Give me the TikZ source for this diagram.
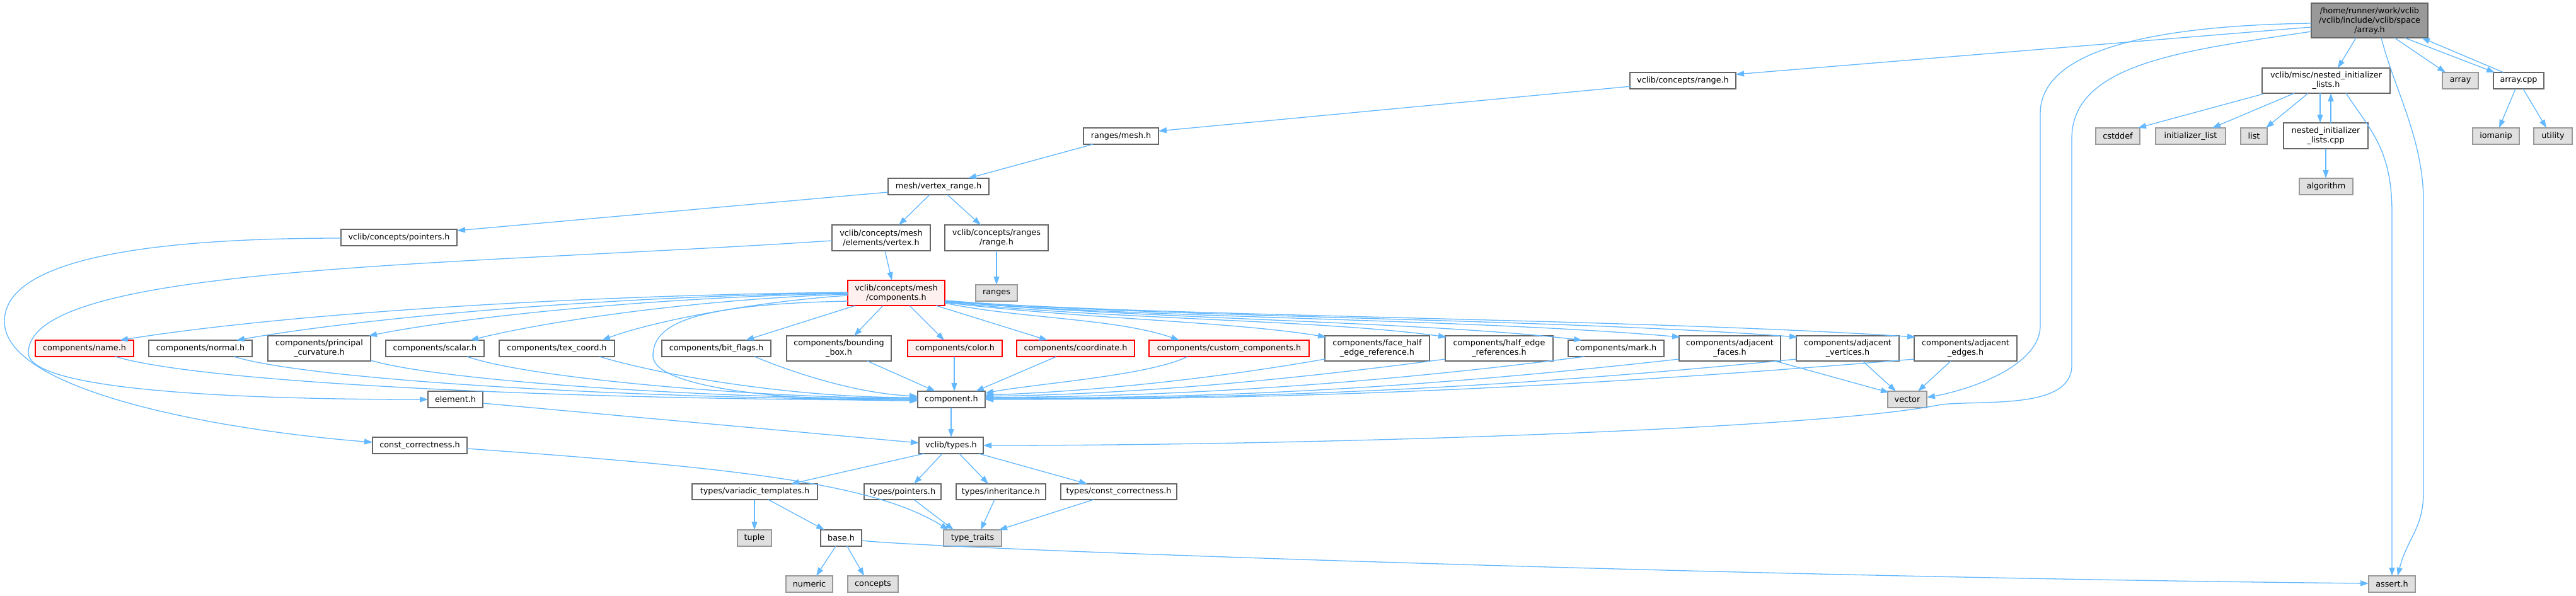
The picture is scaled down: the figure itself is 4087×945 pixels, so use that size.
\documentclass[tikz,border=0pt]{standalone}
\usepackage{fontspec}
\setmainfont{DejaVu Sans}
\usetikzlibrary{arrows.meta}
\definecolor{edgec}{HTML}{63B8FF}
\definecolor{bordc}{HTML}{666666}
\definecolor{grayb}{HTML}{999999}
\definecolor{grayf}{HTML}{E0E0E0}
\definecolor{redb}{HTML}{FF0000}
\definecolor{redf}{HTML}{FFF0F0}
\definecolor{mainf}{HTML}{999999}
\newcommand\bx[7]{\node[#2, minimum width={(#5-#3)*1pt}, minimum height={(#6-#4)*1pt}] (#1) at ({(#3+#5)/2},{(#4+#6)/2}) {#7};}
\newcommand\rp[3]{([shift={(#2,#3)}]#1.north west)}
\begin{document}
\begin{tikzpicture}[x=1pt,y=-1pt,
  box/.style={draw=bordc, fill=white, line width=1.3pt, inner sep=0pt, outer sep=0pt, align=center, font=\fontsize{12.8}{15}\selectfont},
  wbox/.style={box},
  gbox/.style={box, draw=grayb, fill=grayf},
  rbox/.style={box, draw=redb, fill=redf},
  mbox/.style={box, fill=mainf},
  dep/.style={draw=edgec, line width=1.3pt, -{Triangle[length=13pt,width=9pt]}}]
\fill[white] (0,0) rectangle (4087,945);
\useasboundingbox (0,0) rectangle (4087,945);
% nodes
\bx{main}{mbox}{3667}{5}{3852}{60}{/home/runner/work/vclib\\/vclib/include/vclib/space\\/array.h}
\bx{crange}{wbox}{2586}{115}{2754}{141}{vclib/concepts/range.h}
\bx{nil}{wbox}{3589}{108}{3792}{148}{vclib/misc/nested\_initializer\\\_lists.h}
\bx{arr}{gbox}{3875}{115}{3932}{141}{array}
\bx{acpp}{wbox}{3956}{115}{4036}{141}{array.cpp}
\bx{rmesh}{wbox}{1719}{203}{1838}{229}{ranges/mesh.h}
\bx{cstddef}{gbox}{3325}{203}{3395}{229}{cstddef}
\bx{initl}{gbox}{3420}{203}{3531}{229}{initializer\_list}
\bx{list}{gbox}{3555}{203}{3597}{229}{list}
\bx{nilcpp}{wbox}{3623}{195}{3757}{236}{nested\_initializer\\\_lists.cpp}
\bx{iomanip}{gbox}{3923}{203}{3997}{229}{iomanip}
\bx{utility}{gbox}{4020}{203}{4081}{229}{utility}
\bx{algorithm}{gbox}{3648}{283}{3733}{309}{algorithm}
\bx{vrange}{wbox}{1409}{283}{1569}{309}{mesh/vertex\_range.h}
\bx{ptrs}{wbox}{541}{364}{725}{390}{vclib/concepts/pointers.h}
\bx{vertex}{wbox}{1320}{357}{1476}{398}{vclib/concepts/mesh\\/elements/vertex.h}
\bx{rrange}{wbox}{1499}{357}{1663}{398}{vclib/concepts/ranges\\/range.h}
\bx{comps}{rbox}{1345}{445}{1499}{485}{vclib/concepts/mesh\\/components.h}
\bx{ranges}{gbox}{1548}{452}{1614}{478}{ranges}
\bx{cname}{rbox}{56}{540}{212}{566}{components/name.h}
\bx{cnormal}{wbox}{236}{540}{400}{566}{components/normal.h}
\bx{cprinc}{wbox}{425}{533}{588}{573}{components/principal\\\_curvature.h}
\bx{cscalar}{wbox}{612}{540}{768}{566}{components/scalar.h}
\bx{ctex}{wbox}{792}{540}{975}{566}{components/tex\_coord.h}
\bx{cbit}{wbox}{1050}{540}{1223}{566}{components/bit\_flags.h}
\bx{cbbox}{wbox}{1248}{533}{1414}{573}{components/bounding\\\_box.h}
\bx{ccolor}{rbox}{1440}{540}{1590}{566}{components/color.h}
\bx{ccoord}{rbox}{1613}{540}{1800}{566}{components/coordinate.h}
\bx{ccustom}{rbox}{1823}{540}{2077}{566}{components/custom\_components.h}
\bx{cfhe}{wbox}{2102}{533}{2268}{573}{components/face\_half\\\_edge\_reference.h}
\bx{chalf}{wbox}{2293}{533}{2464}{573}{components/half\_edge\\\_references.h}
\bx{cmark}{wbox}{2488}{540}{2640}{566}{components/mark.h}
\bx{cadjf}{wbox}{2664}{533}{2825}{573}{components/adjacent\\\_faces.h}
\bx{cadjv}{wbox}{2850}{533}{3013}{573}{components/adjacent\\\_vertices.h}
\bx{cadje}{wbox}{3037}{533}{3200}{573}{components/adjacent\\\_edges.h}
\bx{element}{wbox}{679}{621}{766}{647}{element.h}
\bx{component}{wbox}{1456}{621}{1563}{647}{component.h}
\bx{vector}{gbox}{2995}{621}{3057}{647}{vector}
\bx{constc}{wbox}{591}{694}{741}{720}{const\_correctness.h}
\bx{types}{wbox}{1458}{694}{1560}{720}{vclib/types.h}
\bx{tvar}{wbox}{1098}{768}{1297}{793}{types/variadic\_templates.h}
\bx{tptr}{wbox}{1371}{768}{1493}{793}{types/pointers.h}
\bx{tinh}{wbox}{1517}{768}{1659}{793}{types/inheritance.h}
\bx{tcc}{wbox}{1683}{768}{1867}{793}{types/const\_correctness.h}
\bx{tuple}{gbox}{1170}{841}{1224}{867}{tuple}
\bx{base}{wbox}{1302}{841}{1367}{867}{base.h}
\bx{ttraits}{gbox}{1497}{841}{1589}{867}{type\_traits}
\bx{numeric}{gbox}{1247}{914}{1321}{940}{numeric}
\bx{concepts}{gbox}{1345}{914}{1425}{940}{concepts}
\bx{assert}{gbox}{3758}{914}{3832}{940}{assert.h}
% edges from main
\draw[dep] \rp{main}{0}{38} -- \rp{crange}{168}{3};
\draw[dep] \rp{main}{71}{55} -- \rp{nil}{120}{0};
\draw[dep] \rp{main}{132}{55} -- \rp{arr}{5}{0};
\draw[dep] \rp{main}{148}{55} -- \rp{acpp}{2}{0};
\draw[dep] \rp{acpp}{16}{0} -- \rp{main}{175}{55};
\draw[dep] \rp{main}{0}{32} .. controls +(-217,3) and +(0,-110) .. ++(-430,143) -- ++(0,337) .. controls +(0,60) and +(80,-15) .. \rp{vector}{62}{10};
\draw[dep] \rp{main}{0}{45} .. controls +(-200,30) and +(0,-120) .. ++(-380,170) -- ++(0,360) .. controls +(0,70) and +(70,-7) .. ++(-207,62) .. controls +(-180,38) and +(550,0) .. \rp{types}{102}{13};
\draw[dep] \rp{main}{111}{55} .. controls +(20,80) and +(0,-100) .. ++(67,260) -- ++(0,460) .. controls +(0,60) and +(15,-60) .. \rp{assert}{46}{0};
% nested initializer lists
\draw[dep] \rp{nil}{2}{41} -- \rp{cstddef}{67}{0};
\draw[dep] \rp{nil}{51}{40} -- \rp{initl}{90}{0};
\draw[dep] \rp{nil}{73}{40} -- \rp{list}{40}{0};
\draw[dep] \rp{nil}{92}{40} -- \rp{nilcpp}{58}{0};
\draw[dep] \rp{nilcpp}{75}{0} -- \rp{nil}{109}{40};
\draw[dep] \rp{nil}{133}{40} .. controls +(40,60) and +(0,-100) .. ++(73,190) -- \rp{assert}{37}{0};
\draw[dep] \rp{nilcpp}{67}{41} -- \rp{algorithm}{42}{0};
\draw[dep] \rp{acpp}{35}{26} -- \rp{iomanip}{42}{0};
\draw[dep] \rp{acpp}{47}{26} -- \rp{utility}{20}{0};
% ranges chain
\draw[dep] \rp{crange}{2}{22} -- \rp{rmesh}{119}{5};
\draw[dep] \rp{rmesh}{15}{26} -- \rp{vrange}{127}{0};
\draw[dep] \rp{vrange}{0}{22} -- \rp{ptrs}{184}{2};
\draw[dep] \rp{vrange}{66}{26} -- \rp{vertex}{106}{0};
\draw[dep] \rp{vrange}{94}{26} -- \rp{rrange}{57}{0};
\draw[dep] \rp{rrange}{82}{41} -- \rp{ranges}{33}{0};
\draw[dep] \rp{vertex}{84}{41} -- \rp{comps}{70}{0};
\draw[dep] \rp{vertex}{0}{25} .. controls +(-600,40) and +(0,-140) .. ++(-1275,178) .. controls +(0,60) and +(-300,0) .. \rp{element}{0}{13};
\draw[dep] \rp{ptrs}{0}{14} .. controls +(-250,0) and +(0,-110) .. ++(-534,132) .. controls +(0,110) and +(-250,-20) .. \rp{constc}{0}{8};
% components.h fan
\draw[dep] \rp{comps}{0}{19} .. controls +(-460,5) and +(250,-40) .. \rp{cname}{134}{0};
\draw[dep] \rp{comps}{0}{20} .. controls +(-390,5) and +(200,-35) .. \rp{cnormal}{139}{0};
\draw[dep] \rp{comps}{0}{21} .. controls +(-300,5) and +(150,-30) .. \rp{cprinc}{160}{0};
\draw[dep] \rp{comps}{0}{22} .. controls +(-240,8) and +(120,-30) .. \rp{cscalar}{134}{0};
\draw[dep] \rp{comps}{0}{24} .. controls +(-150,10) and +(80,-30) .. \rp{ctex}{163}{0};
\draw[dep] \rp{comps}{12}{40} -- \rp{cbit}{133}{0};
\draw[dep] \rp{comps}{56}{40} -- \rp{cbbox}{107}{0};
\draw[dep] \rp{comps}{98}{40} -- \rp{ccolor}{58}{0};
\draw[dep] \rp{comps}{140}{40} -- \rp{ccoord}{49}{0};
\draw[dep] \rp{comps}{154}{36} .. controls +(120,25) and +(-100,-35) .. \rp{ccustom}{48}{0};
\draw[dep] \rp{comps}{154}{35} .. controls +(200,25) and +(-150,-25) .. \rp{cfhe}{2}{2};
\draw[dep] \rp{comps}{154}{34} .. controls +(250,28) and +(-200,-28) .. \rp{chalf}{2}{2};
\draw[dep] \rp{comps}{154}{33} .. controls +(300,28) and +(-250,-30) .. \rp{cmark}{22}{0};
\draw[dep] \rp{comps}{154}{33} .. controls +(300,27) and +(-350,-30) .. \rp{cadjf}{2}{2};
\draw[dep] \rp{comps}{154}{32} .. controls +(300,26) and +(-400,-30) .. \rp{cadjv}{2}{2};
\draw[dep] \rp{comps}{154}{32} .. controls +(300,25) and +(-450,-30) .. \rp{cadje}{2}{2};
\draw[dep] \rp{comps}{0}{33} .. controls +(-250,5) and +(0,-50) .. ++(-309,87) .. controls +(0,45) and +(-250,0) .. \rp{component}{0}{15};
% components -> component.h
\draw[dep] \rp{cname}{127}{26} .. controls +(150,45) and +(-500,0) .. \rp{component}{0}{14};
\draw[dep] \rp{cnormal}{135}{26} .. controls +(130,40) and +(-400,0) .. \rp{component}{0}{13};
\draw[dep] \rp{cprinc}{163}{39} .. controls +(120,35) and +(-300,0) .. \rp{component}{0}{12};
\draw[dep] \rp{cscalar}{129}{26} .. controls +(100,35) and +(-250,0) .. \rp{component}{0}{11};
\draw[dep] \rp{ctex}{159}{26} .. controls +(100,30) and +(-200,0) .. \rp{component}{0}{10};
\draw[dep] \rp{cbit}{147}{26} .. controls +(60,25) and +(-100,-5) .. \rp{component}{0}{8};
\draw[dep] \rp{cbbox}{128}{40} -- \rp{component}{28}{0};
\draw[dep] \rp{ccolor}{74}{26} -- \rp{component}{58}{0};
\draw[dep] \rp{ccoord}{63}{26} -- \rp{component}{92}{0};
\draw[dep] \rp{ccustom}{61}{26} .. controls +(-60,30) and +(80,-15) .. \rp{component}{107}{3};
\draw[dep] \rp{cfhe}{0}{37} .. controls +(-200,35) and +(150,-5) .. \rp{component}{107}{6};
\draw[dep] \rp{chalf}{0}{37} .. controls +(-300,40) and +(200,-3) .. \rp{component}{107}{8};
\draw[dep] \rp{cmark}{26}{26} .. controls +(-350,45) and +(300,-2) .. \rp{component}{107}{10};
\draw[dep] \rp{cadjf}{0}{37} .. controls +(-450,50) and +(350,0) .. \rp{component}{107}{11};
\draw[dep] \rp{cadjv}{0}{37} .. controls +(-500,50) and +(400,0) .. \rp{component}{107}{12};
\draw[dep] \rp{cadje}{0}{37} .. controls +(-600,50) and +(450,0) .. \rp{component}{107}{13};
\draw[dep] \rp{cadjf}{152}{40} -- \rp{vector}{2}{2};
\draw[dep] \rp{cadjv}{105}{40} -- \rp{vector}{13}{0};
\draw[dep] \rp{cadje}{58}{40} -- \rp{vector}{48}{0};
% lower part
\draw[dep] \rp{component}{53}{26} -- \rp{types}{51}{0};
\draw[dep] \rp{element}{87}{19} -- \rp{types}{0}{9};
\draw[dep] \rp{constc}{150}{18} .. controls +(420,30) and +(-120,-75) .. \rp{ttraits}{8}{0};
\draw[dep] \rp{types}{8}{26} -- \rp{tvar}{157}{0};
\draw[dep] \rp{types}{37}{26} -- \rp{tptr}{79}{0};
\draw[dep] \rp{types}{64}{26} -- \rp{tinh}{51}{0};
\draw[dep] \rp{types}{95}{26} -- \rp{tcc}{42}{0};
\draw[dep] \rp{tvar}{99}{25} -- \rp{tuple}{27}{0};
\draw[dep] \rp{tvar}{121}{25} -- \rp{base}{6}{0};
\draw[dep] \rp{tptr}{79}{25} -- \rp{ttraits}{16}{0};
\draw[dep] \rp{tinh}{61}{25} -- \rp{ttraits}{59}{0};
\draw[dep] \rp{tcc}{52}{25} -- \rp{ttraits}{88}{0};
\draw[dep] \rp{base}{24}{26} -- \rp{numeric}{48}{0};
\draw[dep] \rp{base}{42}{26} -- \rp{concepts}{26}{0};
\draw[dep] \rp{base}{65}{17} .. controls +(130,14) and +(-1000,-10) .. \rp{assert}{0}{12};
\end{tikzpicture}
\end{document}
